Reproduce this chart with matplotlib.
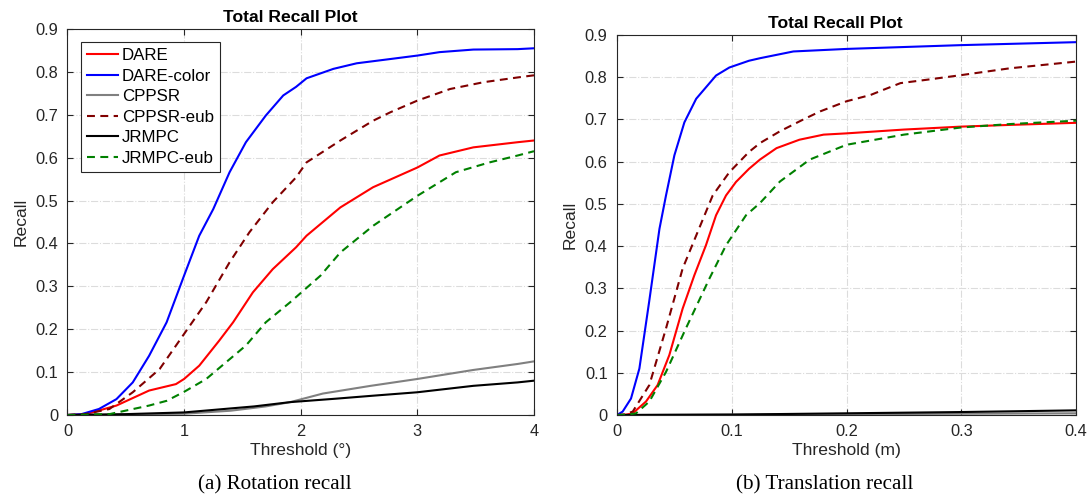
import numpy as np
import matplotlib
matplotlib.use("Agg")
import matplotlib.pyplot as plt

plt.rcParams['font.family'] = ['Liberation Sans', 'DejaVu Sans']

names = ["DARE", "DARE-color", "CPPSR", "CPPSR-eub", "JRMPC", "JRMPC-eub"]
colors = ["#ff0000", "#0000ff", "#808080", "#800000", "#000000", "#008000"]
dash = (0, (3.8, 2.6))
styles = ["-", "-", "-", dash, "-", dash]

# rotation recall (threshold in degrees)
rot_dare_x = [0, 0.16, 0.42, 0.7, 0.93, 1.0, 1.13, 1.3, 1.42, 1.59, 1.76, 1.96, 2.05, 2.34, 2.62, 3.0, 3.19, 3.48, 3.86, 4.0]
rot_dare_y = [0, 0.002, 0.022, 0.057, 0.072, 0.084, 0.115, 0.173, 0.216, 0.286, 0.34, 0.391, 0.418, 0.484, 0.531, 0.577, 0.605, 0.624, 0.636, 0.64]
rot_color_x = [0, 0.12, 0.27, 0.42, 0.56, 0.7, 0.85, 1.0, 1.13, 1.25, 1.39, 1.53, 1.7, 1.85, 1.96, 2.05, 2.28, 2.48, 2.77, 3.0, 3.19, 3.48, 3.86, 4.0]
rot_color_y = [0, 0.002, 0.014, 0.037, 0.076, 0.138, 0.216, 0.325, 0.418, 0.48, 0.566, 0.636, 0.698, 0.745, 0.765, 0.785, 0.807, 0.82, 0.83, 0.838, 0.846, 0.852, 0.853, 0.855]
rot_cppsr_x = [0, 0.5, 1.0, 1.4, 1.7, 1.91, 2.19, 2.6, 3.0, 3.48, 3.86, 4.0]
rot_cppsr_y = [0, 0.001, 0.003, 0.01, 0.02, 0.03, 0.05, 0.068, 0.084, 0.105, 0.119, 0.125]
rot_cppsreub_x = [0, 0.15, 0.36, 0.56, 0.79, 1.0, 1.19, 1.39, 1.56, 1.76, 1.96, 2.05, 2.34, 2.62, 2.77, 3.0, 3.28, 3.57, 3.86, 4.0]
rot_cppsreub_y = [0, 0.002, 0.014, 0.053, 0.107, 0.189, 0.263, 0.356, 0.426, 0.496, 0.554, 0.589, 0.64, 0.686, 0.706, 0.733, 0.76, 0.776, 0.787, 0.792]
rot_jrmpc_x = [0, 0.5, 1.0, 1.3, 1.6, 1.91, 2.3, 2.62, 3.0, 3.48, 3.86, 4.0]
rot_jrmpc_y = [0, 0.002, 0.006, 0.013, 0.02, 0.03, 0.038, 0.045, 0.053, 0.068, 0.076, 0.08]
rot_jrmpceub_x = [0, 0.36, 0.7, 0.85, 1.0, 1.19, 1.36, 1.53, 1.7, 1.91, 2.17, 2.34, 2.62, 3.0, 3.33, 3.62, 3.86, 4.0]
rot_jrmpceub_y = [0, 0.002, 0.022, 0.033, 0.054, 0.084, 0.123, 0.162, 0.216, 0.263, 0.325, 0.379, 0.441, 0.511, 0.566, 0.589, 0.605, 0.615]

# translation recall (threshold in metres)
tr_dare_x = [0, 0.008, 0.0137, 0.0253, 0.0354, 0.0456, 0.0572, 0.0674, 0.0775, 0.0863, 0.095, 0.1037, 0.115, 0.1246, 0.139, 0.159, 0.18, 0.2, 0.25, 0.3, 0.342, 0.4]
tr_dare_y = [0, 0.001, 0.004, 0.032, 0.071, 0.142, 0.252, 0.331, 0.402, 0.473, 0.52, 0.552, 0.583, 0.605, 0.632, 0.652, 0.664, 0.667, 0.676, 0.683, 0.687, 0.692]
tr_color_x = [0, 0.0049, 0.0122, 0.0195, 0.028, 0.037, 0.0427, 0.05, 0.0587, 0.069, 0.0863, 0.0979, 0.115, 0.1246, 0.1537, 0.2, 0.3, 0.4]
tr_color_y = [0, 0.008, 0.039, 0.11, 0.268, 0.441, 0.52, 0.615, 0.693, 0.749, 0.804, 0.823, 0.839, 0.845, 0.861, 0.867, 0.876, 0.883]
tr_cppsr_x = [0, 0.1, 0.2, 0.3, 0.4]
tr_cppsr_y = [0, 0.001, 0.002, 0.003, 0.004]
tr_cppsreub_x = [0, 0.006, 0.0137, 0.0282, 0.0427, 0.0572, 0.069, 0.0834, 0.0979, 0.115, 0.1246, 0.142, 0.1624, 0.177, 0.2, 0.221, 0.232, 0.247, 0.27, 0.3, 0.342, 0.4]
tr_cppsreub_y = [0, 0.001, 0.008, 0.071, 0.205, 0.347, 0.425, 0.52, 0.575, 0.623, 0.644, 0.672, 0.70, 0.719, 0.743, 0.758, 0.77, 0.786, 0.794, 0.805, 0.821, 0.837]
tr_jrmpc_x = [0, 0.1, 0.2, 0.3, 0.4]
tr_jrmpc_y = [0, 0.001, 0.004, 0.007, 0.011]
tr_jrmpceub_x = [0, 0.01, 0.0166, 0.0282, 0.0427, 0.06, 0.0805, 0.095, 0.1124, 0.1246, 0.142, 0.168, 0.2, 0.25, 0.3, 0.342, 0.4]
tr_jrmpceub_y = [0, 0.001, 0.004, 0.032, 0.102, 0.205, 0.323, 0.402, 0.473, 0.502, 0.553, 0.605, 0.64, 0.664, 0.681, 0.689, 0.697]

rot = [(rot_dare_x, rot_dare_y), (rot_color_x, rot_color_y), (rot_cppsr_x, rot_cppsr_y),
       (rot_cppsreub_x, rot_cppsreub_y), (rot_jrmpc_x, rot_jrmpc_y), (rot_jrmpceub_x, rot_jrmpceub_y)]
tr = [(tr_dare_x, tr_dare_y), (tr_color_x, tr_color_y), (tr_cppsr_x, tr_cppsr_y),
      (tr_cppsreub_x, tr_cppsreub_y), (tr_jrmpc_x, tr_jrmpc_y), (tr_jrmpceub_x, tr_jrmpceub_y)]

fig = plt.figure(figsize=(10.88, 4.97), dpi=100)
ax1 = fig.add_axes([0.0620, 0.165, 0.4288, 0.7767])
ax2 = fig.add_axes([0.5671, 0.165, 0.4219, 0.7646])


def style_axis(ax, xmax, xticks, xlabel, title_x):
    ax.set_xlim(0, xmax)
    ax.set_ylim(0, 0.9)
    ax.set_xticks(xticks)
    ax.set_yticks(np.arange(0, 0.91, 0.1))
    ax.set_xticklabels([("%g" % t) for t in xticks])
    ax.set_yticklabels(["0"] + ["%.1f" % t for t in np.arange(0.1, 0.91, 0.1)])
    ax.grid(True, color="#dcdcdc", linestyle="-.", linewidth=0.8)
    ax.set_axisbelow(True)
    ax.tick_params(direction="in", top=True, right=True, labelsize=11.8,
                   colors="#262626", length=4)
    ax.tick_params(axis="x", pad=6.5)
    ax.tick_params(axis="y", pad=6.8)
    for s in ax.spines.values():
        s.set_color("#262626")
        s.set_linewidth(0.8)
    ax.set_title("Total Recall Plot", fontsize=12.6, fontweight="bold", pad=5, x=title_x)
    ax.set_xlabel(xlabel, fontsize=12.6, color="#262626", labelpad=3)
    ax.set_ylabel("Recall", fontsize=12.6, color="#262626", labelpad=5)


for (x, y), n, c, ls in zip(rot, names, colors, styles):
    ax1.plot(x, y, color=c, linestyle=ls, linewidth=1.5, label=n)
for (x, y), n, c, ls in zip(tr, names, colors, styles):
    ax2.plot(x, y, color=c, linestyle=ls, linewidth=1.5, label=n)

style_axis(ax1, 4, [0, 1, 2, 3, 4], "Threshold (°)", 0.477)
style_axis(ax2, 0.4, [0, 0.1, 0.2, 0.3, 0.4], "Threshold (m)", 0.475)

fig.text(0.2523, 0.024, "(a) Rotation recall", ha="center", va="center",
         fontsize=15.2, family="Liberation Serif")
fig.text(0.7578, 0.024, "(b) Translation recall", ha="center", va="center",
         fontsize=15.2, family="Liberation Serif")

leg = ax1.legend(loc="upper left", fontsize=12.2, fancybox=False, framealpha=1,
                 edgecolor="#262626", handlelength=1.85, handletextpad=0.2,
                 labelspacing=0.33, borderpad=0.35, borderaxespad=0,
                 bbox_to_anchor=(0.029, 0.966))
leg.get_frame().set_linewidth(0.8)

fig.savefig("out.png", dpi=100)
